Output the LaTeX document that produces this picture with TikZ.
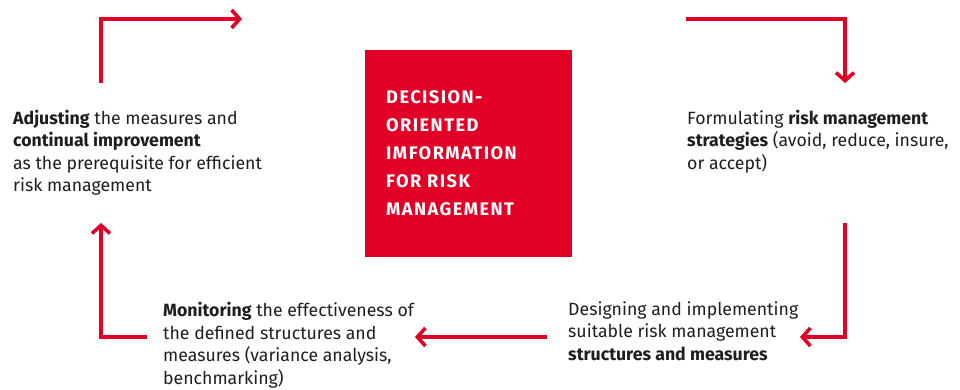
\documentclass[tikz,border=0pt]{standalone}
\usepackage{fontspec}
\setmainfont{Fira Sans}
\newfontfamily\boxfont[LetterSpace=8]{Fira Sans Bold}
\usetikzlibrary{arrows.meta}
\definecolor{brandred}{RGB}{226,0,38}
\definecolor{txt}{RGB}{30,30,30}
\tikzset{
  flow/.style={draw=brandred, line width=4.2pt, -{Straight Barb[length=8pt,width=18pt,line width=3.6pt]}},
  desc/.style={anchor=base west, inner sep=0pt, align=left, text=txt, font=\fontsize{17.7}{22.5}\selectfont},
  hub/.style={fill=brandred, inner sep=0pt, minimum width=207pt, minimum height=207pt},
  hubtext/.style={anchor=base west, inner sep=0pt, align=left, text=white, font=\boxfont\fontsize{18.2}{28}\selectfont}
}
\begin{document}
\begin{tikzpicture}[x=1pt,y=-1pt]
\useasboundingbox (0,0) rectangle (960,389);
% central box
\node[hub, anchor=north west] (box) at (365,50) {};
\node[hubtext] (boxtext) at (386,215) {DECISION-\\ORIENTED\\IMFORMATION\\FOR RISK\\MANAGEMENT};
% descriptions
\node[desc] (adjust) at (13,191.5) {\textbf{Adjusting} the measures and\\\textbf{continual improvement}\\as the prerequisite for efficient\\risk management};
\node[desc] (formulate) at (687,169) {Formulating \textbf{risk management}\\\textbf{strategies} (avoid, reduce, insure,\\or accept)};
\node[desc] (design) at (568,360) {Designing and implementing\\suitable risk management\\\textbf{structures and measures}};
\node[desc] (monitor) at (163,384) {\textbf{Monitoring} the effectiveness of\\the defined structures and\\measures (variance analysis,\\benchmarking)};
% arrow coordinates
\coordinate (a1s) at (101,83);
\coordinate (a1c) at (101,19);
\coordinate (a1e) at (242,19);
\coordinate (a2s) at (686,19);
\coordinate (a2c) at (845,19);
\coordinate (a2e) at (845,83);
\coordinate (a3s) at (845,223);
\coordinate (a3c) at (845,337);
\coordinate (a3e) at (800,337);
\coordinate (a4s) at (547,337);
\coordinate (a4e) at (415,337);
\coordinate (a5s) at (147,337);
\coordinate (a5c) at (101,337);
\coordinate (a5e) at (101,223);
\draw[flow] (a1s) -- (a1c) -- (a1e);
\draw[flow] (a2s) -- (a2c) -- (a2e);
\draw[flow] (a3s) -- (a3c) -- (a3e);
\draw[flow] (a4s) -- (a4e);
\draw[flow] (a5s) -- (a5c) -- (a5e);
\end{tikzpicture}
\end{document}
